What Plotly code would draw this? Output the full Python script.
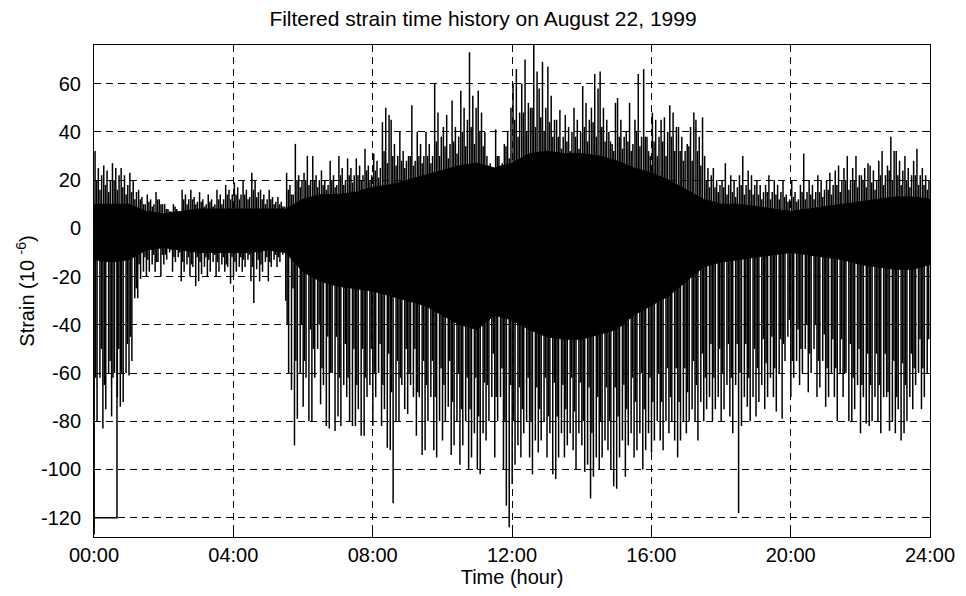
import numpy as np
import plotly.graph_objects as go

# ---------------- data ----------------
tick_hours = [0, 4, 8, 12, 16, 20, 24]
tick_labels = ["00:00", "04:00", "08:00", "12:00", "16:00", "20:00", "24:00"]
strain_ticks = [60, 40, 20, 0, -20, -40, -60, -80, -100, -120]

# dense core band of the signal, sampled every half hour (strain, 1e-6)
core_hours = [0, 0.5, 1, 1.5, 2, 2.5, 3, 3.5, 4, 4.5, 5, 5.5, 6, 6.5, 7, 7.5, 8, 8.5,
              9, 9.5, 10, 10.5, 11, 11.5, 12, 12.5, 13, 13.5, 14, 14.5, 15, 15.5, 16,
              16.5, 17, 17.5, 18, 18.5, 19, 19.5, 20, 20.5, 21, 21.5, 22, 22.5, 23, 23.5, 24]
core_hi = [10, 10, 10, 7, 6, 7, 8, 8, 8, 8, 8, 8, 12, 14, 14, 15, 17, 18,
           20, 22, 24, 26, 27, 25, 27, 31, 32, 31, 31, 30, 28, 25, 23,
           20, 16, 12, 10, 10, 9, 8, 7, 8, 9, 10, 11, 12, 13, 13, 12]
core_lo = [-13, -14, -13, -9, -8, -9, -10, -10, -10, -10, -9, -10, -18, -22, -24, -25, -26, -28,
           -30, -32, -36, -40, -42, -36, -38, -42, -45, -46, -46, -44, -42, -36, -32,
           -28, -22, -16, -14, -13, -12, -11, -10, -11, -12, -13, -15, -16, -17, -17, -15]

# peak values per quarter-hour bin (three upward and three downward excursions)
bin_width_h = 0.25
spike_up = [
    [32, 25, 22], [26, 24, 20], [27, 25, 22], [25, 22, 18], [23, 20, 15], [16, 13, 10],
    [14, 12, 10], [15, 12, 10], [10, 8, 7], [10, 8, 7], [16, 14, 12], [16, 13, 11],
    [15, 12, 10], [14, 12, 10], [16, 14, 12], [18, 16, 14], [19, 17, 14], [20, 16, 13],
    [23, 20, 15], [16, 14, 12], [16, 13, 11], [13, 11, 9], [23, 18, 14], [35, 22, 20],
    [23, 30, 20], [30, 22, 20], [24, 20, 18], [28, 22, 18], [30, 25, 20], [29, 25, 22],
    [29, 26, 22], [33, 26, 22], [31, 28, 25], [44, 50, 47], [45, 35, 30], [40, 32, 28],
    [30, 51, 28], [40, 35, 30], [40, 35, 30], [60, 48, 38], [42, 47, 35], [53, 42, 38],
    [57, 50, 45], [73, 55, 50], [57, 48, 40], [30, 27, 24], [41, 30, 27], [35, 40, 50],
    [60, 66, 48], [60, 70, 52], [50, 76, 65], [58, 69, 50], [67, 55, 45], [45, 49, 38],
    [47, 42, 40], [50, 45, 40], [59, 52, 45], [50, 64, 58], [65, 50, 45], [40, 35, 52],
    [54, 45, 38], [40, 52, 35], [45, 64, 38], [66, 38, 30], [48, 45, 38], [45, 46, 40],
    [51, 48, 42], [42, 38, 32], [35, 42, 48], [45, 38, 46], [30, 25, 22], [25, 20, 18],
    [20, 27, 18], [22, 20, 17], [22, 30, 18], [24, 22, 18], [20, 18, 15], [18, 22, 15],
    [20, 18, 15], [20, 14, 12], [20, 15, 12], [18, 31, 15], [20, 18, 15], [22, 20, 16],
    [20, 23, 18], [24, 26, 20], [25, 30, 20], [25, 30, 22], [22, 25, 27], [26, 24, 20],
    [28, 32, 22], [26, 38, 32], [32, 28, 24], [30, 25, 22], [28, 33, 22], [25, 22, 20],
]
spike_dn = [
    [-127, -80, -62], [-83, -75, -60], [-78, -60, -70], [-74, -72, -60], [-61, -55, -29],
    [-29, -21, -18], [-20, -18, -15], [-18, -14, -20], [-15, -13, -10], [-18, -14, -12],
    [-22, -18, -15], [-20, -16, -24], [-22, -19, -16], [-20, -18, -14], [-20, -18, -15],
    [-18, -16, -23], [-20, -18, -16], [-18, -16, -13], [-22, -31, -17], [-22, -18, -14],
    [-22, -16, -13], [-16, -14, -11], [-30, -60, -67], [-90, -79, -60], [-74, -62, -80],
    [-80, -62, -50], [-73, -65, -82], [-83, -60, -84], [-78, -82, -65], [-70, -80, -82],
    [-82, -75, -86], [-86, -70, -65], [-82, -70, -60], [-82, -75, -91], [-92, -114, -80],
    [-80, -65, -75], [-77, -65, -70], [-86, -70, -94], [-92, -80, -70], [-92, -95, -80],
    [-88, -80, -74], [-94, -90, -80], [-98, -90, -80], [-100, -95, -85], [-100, -102, -85],
    [-88, -80, -70], [-95, -80, -70], [-100, -115, -124], [-106, -98, -90], [-95, -85, -80],
    [-95, -102, -88], [-93, -88, -80], [-95, -85, -102], [-104, -95, -85], [-95, -90, -85],
    [-92, -100, -85], [-90, -101, -98], [-112, -103, -95], [-100, -95, -88], [-92, -100, -107],
    [-108, -95, -88], [-103, -90, -85], [-95, -92, -85], [-100, -92, -85], [-93, -88, -80],
    [-88, -92, -80], [-85, -80, -88], [-95, -88, -80], [-85, -80, -75], [-80, -88, -72],
    [-80, -75, -70], [-80, -75, -70], [-80, -75, -65], [-78, -85, -65], [-118, -82, -70],
    [-74, -80, -70], [-78, -72, -65], [-75, -70, -62], [-70, -76, -60], [-79, -55, -45],
    [-70, -62, -55], [-65, -60, -50], [-68, -60, -50], [-70, -66, -55], [-74, -70, -60],
    [-70, -80, -60], [-70, -60, -80], [-80, -75, -65], [-85, -70, -81], [-82, -80, -70],
    [-80, -85, -70], [-70, -84, -80], [-85, -75, -88], [-85, -80, -70], [-75, -65, -60],
    [-75, -70, -60],
]
# typical heights of the many smaller excursions next to the core, per quarter-hour bin
fringe_up = [
    [20, 16], [18, 15], [20, 16], [17, 14], [15, 12],
    [12, 10], [11, 9], [12, 10], [8, 7], [9, 7],
    [12, 10], [12, 10], [11, 9], [11, 9], [12, 10], [14, 12],
    [14, 12], [14, 12], [16, 13], [12, 10], [12, 10], [10, 9],
    [16, 14], [20, 17], [20, 18], [20, 17], [18, 16], [20, 17], [22, 18], [22, 19], [22, 20], [24, 20],
    [24, 21], [32, 27], [30, 26], [28, 25], [30, 26], [30, 27], [30, 27], [36, 30],
    [34, 29], [36, 31], [40, 34], [42, 35], [40, 34], [26, 23], [30, 26], [34, 29],
    [45, 38], [48, 40], [50, 42], [46, 40], [44, 38], [38, 33], [36, 32], [38, 33],
    [42, 36], [44, 38], [42, 36], [36, 32], [38, 33], [36, 32], [40, 34], [38, 32],
    [36, 30], [36, 30], [38, 32], [32, 28], [34, 28], [32, 26],
    [20, 17], [17, 15], [17, 14], [15, 13], [18, 14], [16, 14], [14, 12], [15, 12], [14, 12], [13, 11],
    [13, 11], [15, 12], [14, 12], [15, 13], [16, 14], [18, 15], [20, 16], [20, 17],
    [20, 17], [19, 16], [22, 18], [24, 20], [22, 18], [20, 17], [22, 18], [18, 16],
]
fringe_dn = [
    [-62, -50], [-65, -55], [-62, -50], [-60, -48], [-45, -25],
    [-15, -12], [-13, -11], [-14, -11], [-11, -9], [-12, -10],
    [-14, -12], [-15, -12], [-14, -12], [-13, -11], [-14, -12], [-15, -12],
    [-14, -12], [-13, -11], [-16, -13], [-15, -12], [-14, -11], [-12, -10],
    [-40, -25], [-55, -40], [-55, -42], [-50, -40], [-58, -45], [-60, -45], [-62, -48], [-62, -50], [-65, -50], [-62, -50],
    [-60, -48], [-65, -52], [-68, -55], [-62, -50], [-60, -50], [-68, -55], [-65, -55], [-70, -58],
    [-65, -55], [-72, -60], [-75, -62], [-75, -62], [-78, -64], [-65, -52], [-70, -58], [-80, -65],
    [-80, -66], [-75, -62], [-80, -66], [-75, -62], [-78, -64], [-78, -65], [-75, -62], [-76, -64],
    [-80, -66], [-85, -70], [-80, -66], [-80, -66], [-78, -65], [-75, -62], [-72, -60], [-75, -62],
    [-72, -60], [-72, -58], [-70, -58], [-72, -58], [-68, -55], [-65, -52],
    [-62, -48], [-62, -50], [-60, -48], [-62, -48], [-60, -48], [-62, -50], [-58, -46], [-56, -45], [-58, -46], [-48, -38],
    [-55, -42], [-50, -40], [-52, -40], [-55, -44], [-58, -46], [-58, -46], [-60, -48], [-62, -50],
    [-65, -52], [-65, -52], [-65, -52], [-68, -55], [-70, -56], [-65, -52], [-58, -46], [-58, -46],
]
# flat drop-out stretch at the very beginning of the record
dropout_hours = [0.02, 0.66, 0.66]
dropout_strain = [-120, -120, -10]

# ---------------- build figure ----------------
def spikes(values, offsets):
    xs, ys = [], []
    for i, vals in enumerate(values):
        t0 = i * bin_width_h
        for off, v in zip(offsets, vals):
            t = t0 + off * bin_width_h
            xs += [t, t, None]
            ys += [0, v, None]
    return xs, ys

ux, uy = spikes(spike_up, [0.12, 0.5, 0.88])
fux, fuy = spikes(fringe_up, [0.31, 0.69])
dx, dy = spikes(spike_dn, [0.02, 0.35, 0.68])
fdx, fdy = spikes(fringe_dn, [0.18, 0.85])

line_style = dict(color="black", width=1.5)
fig = go.Figure()
fig.add_trace(go.Scatter(
    x=core_hours + core_hours[::-1], y=core_hi + core_lo[::-1],
    fill="toself", fillcolor="black", mode="lines",
    line=dict(color="black", width=1), hoverinfo="skip", showlegend=False))
for xs, ys in [(fux, fuy), (fdx, fdy), (ux, uy), (dx, dy)]:
    fig.add_trace(go.Scatter(x=xs, y=ys, mode="lines", line=line_style,
                             showlegend=False, hoverinfo="skip"))
fig.add_trace(go.Scatter(x=dropout_hours, y=dropout_strain, mode="lines",
                         line=dict(color="black", width=1.5), showlegend=False,
                         hoverinfo="skip"))

font_family = "Liberation Sans, Arial, sans-serif"
fig.update_layout(
    width=966, height=596,
    margin=dict(l=94, r=36, t=45, b=59),
    paper_bgcolor="white", plot_bgcolor="white",
    font=dict(family=font_family, color="black", size=20),
    title=dict(text="Filtered strain time history on August 22, 1999",
               x=0.5, xanchor="center", y=0.968, yanchor="middle",
               font=dict(size=21, family=font_family, color="black")),
    showlegend=False,
)
fig.update_xaxes(
    range=[0, 24], tickvals=tick_hours, ticktext=tick_labels,
    showgrid=True, gridcolor="black", gridwidth=1, griddash="7px,5px",
    showline=True, linecolor="black", linewidth=1, mirror="ticks",
    ticks="inside", ticklen=5, tickcolor="black", zeroline=False,
    tickfont=dict(size=20),
    title=dict(text="Time (hour)", font=dict(size=20), standoff=0),
)
fig.update_yaxes(
    range=[-128, 76], tickvals=strain_ticks, ticktext=[str(v) for v in strain_ticks],
    showgrid=True, gridcolor="black", gridwidth=1, griddash="7px,5px",
    showline=True, linecolor="black", linewidth=1, mirror="ticks",
    ticks="inside", ticklen=5, tickcolor="black", zeroline=False,
    tickfont=dict(size=20), ticklabelstandoff=8,
    title=dict(text="Strain (10 <sup>-6</sup>)", font=dict(size=20), standoff=0),
)

fig.write_html("out.html")
